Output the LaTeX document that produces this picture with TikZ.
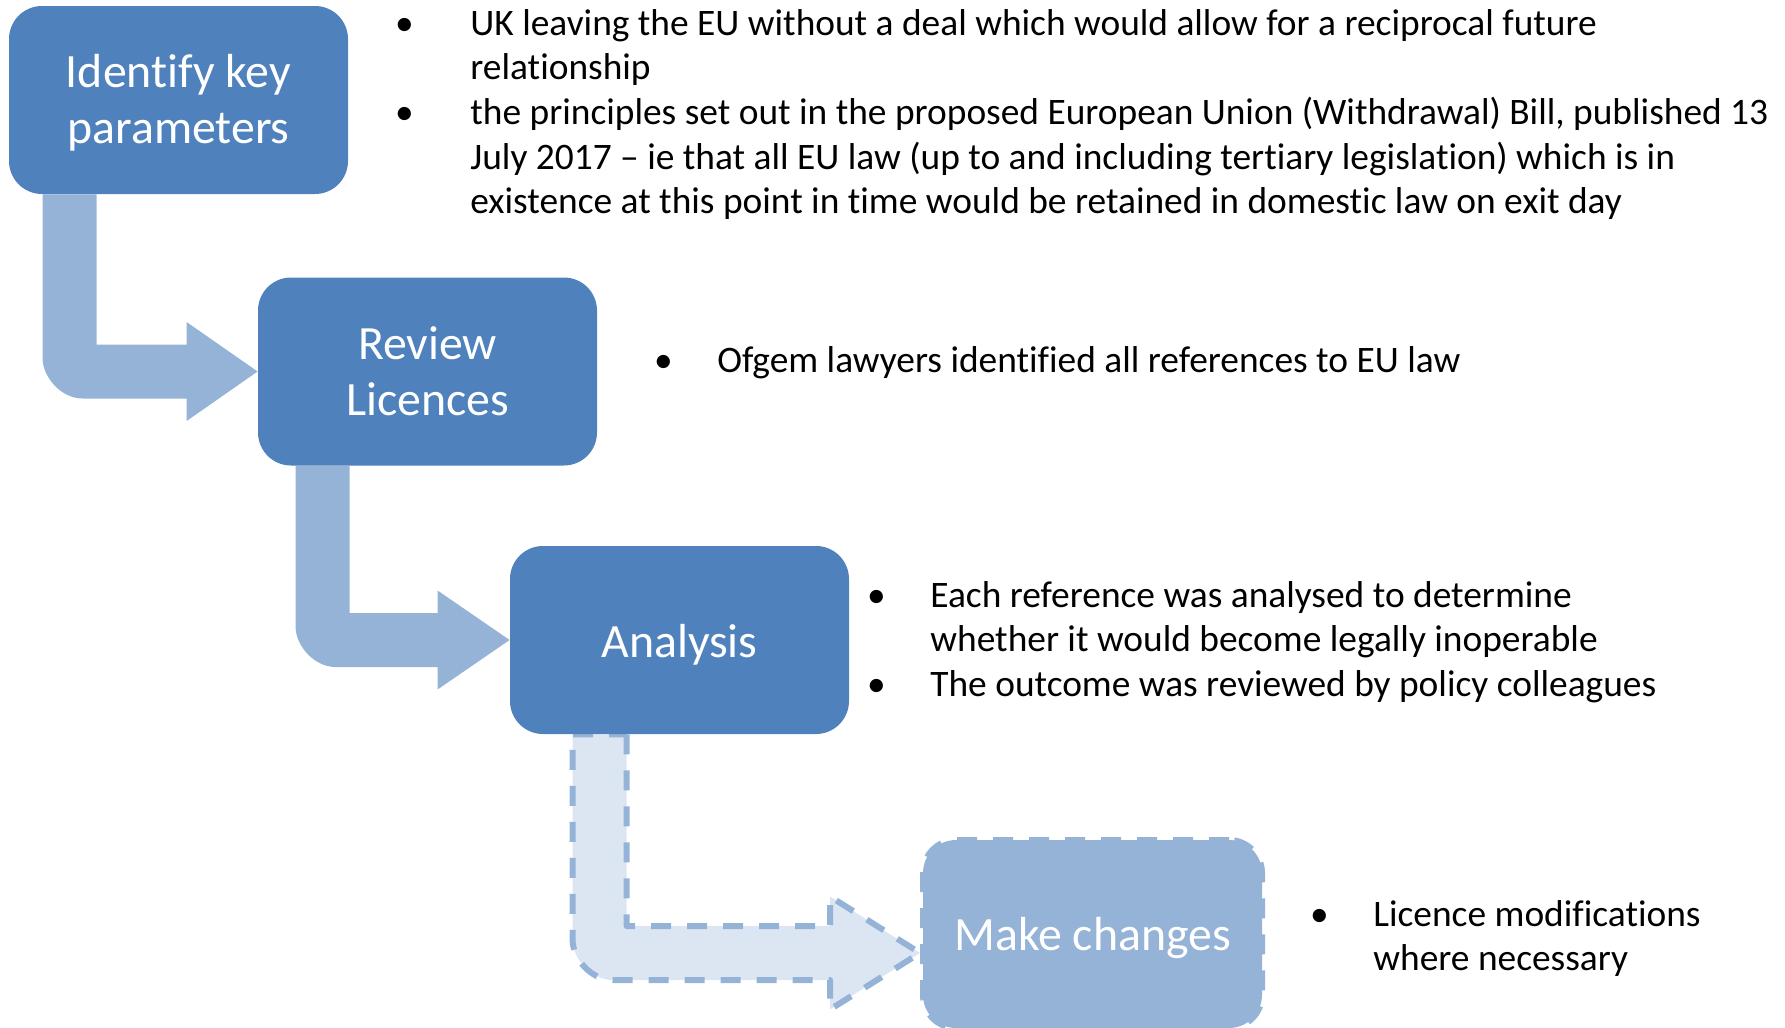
\documentclass[tikz,border=0pt]{standalone}
\usepackage{fontspec}
\setmainfont{Carlito}[Ligatures=NoCommon]
\usetikzlibrary{calc, backgrounds}

\definecolor{stepblue}{HTML}{4F81BD}
\definecolor{arrowblue}{HTML}{95B3D7}
\definecolor{paleblue}{HTML}{DCE6F2}

% hanging bullet, centred #1 to the left of the text
\newcommand{\bul}[1]{\llap{\makebox[0pt]{\textbullet}\hspace{#1}}}
% label text lowered by #1, keeping its size
\newcommand{\lowered}[2]{\raisebox{-#1}[\height][\depth]{\begin{tabular}{@{}c@{}}#2\end{tabular}}}

% bent block arrow: from node, tip, shaft offset, head length, head half height, style
\newcommand{\bentarrow}[6]{%
  \coordinate (bend) at (#1.south west |- #2);
  \path[#6] ($(#1.south west)+(#3+54,0)$) -- ($(bend)+(#3+54,-27)$)
    -- ($(#2)+(-#4,-27)$) -- ($(#2)+(-#4,-#5)$) -- (#2)
    -- ($(#2)+(-#4,#5)$) -- ($(#2)+(-#4,27)$) -- ($(bend)+(#3+40,27)$)
    .. controls ($(bend)+(#3+18,27)$) and ($(bend)+(#3,5)$) .. ($(bend)+(#3,-13)$)
    -- ($(#1.south west)+(#3,0)$) -- cycle;
}

\begin{document}
\begin{tikzpicture}[x=0.5pt, y=-0.5pt,
    stepbox/.style={rectangle, rounded corners=16.5pt, minimum width=169.5pt,
      minimum height=94pt, inner sep=0pt, fill=stepblue, text=white,
      align=center, font=\fontsize{23.9}{28.2}\selectfont},
    nextbox/.style={stepbox, fill=arrowblue, draw=arrowblue, line width=3pt,
      dash pattern=on 10pt off 8pt},
    bultxt/.style={anchor=base west, inner sep=0pt,
      font=\fontsize{18.7}{22.35}\selectfont},
    flow/.style={fill=arrowblue},
    nextflow/.style={fill=paleblue, draw=arrowblue, line width=3pt,
      dash pattern=on 10pt off 8pt, line join=round}]
    \useasboundingbox (0,0) rectangle (1785,1028);

    % steps
    \node[stepbox] (identify) at (178.5,100) {\lowered{2pt}{Identify key\\parameters}};
    \node[stepbox] (review) at (427.5,371.5) {\lowered{2.5pt}{Review\\Licences}};
    \node[stepbox] (analysis) at (679.5,640) {\lowered{3pt}{Analysis}};
    \node[nextbox] (changes) at (1092.5,934) {\lowered{2.5pt}{Make changes}};

    % notes
    \node[bultxt] (keytxt) at (470,35) {\begin{tabular}[t]{@{}l@{}}
      \bul{33pt}UK leaving the EU without a deal which would allow for a reciprocal future\\
      relationship\\
      \bul{33pt}the principles set out in the proposed European Union (Withdrawal) Bill, published 13\\
      July 2017 – ie that all EU law (up to and including tertiary legislation) which is in\\
      existence at this point in time would be retained in domestic law on exit day
    \end{tabular}};
    \node[bultxt] (reviewtxt) at (717,372) {\begin{tabular}[t]{@{}l@{}}
      \bul{27pt}Ofgem lawyers identified all references to EU law
    \end{tabular}};
    \node[bultxt] (analysistxt) at (930,607) {\begin{tabular}[t]{@{}l@{}}
      \bul{27pt}Each reference was analysed to determine\\
      whether it would become legally inoperable\\
      \bul{27pt}The outcome was reviewed by policy colleagues
    \end{tabular}};
    \node[bultxt] (changestxt) at (1373,926) {\begin{tabular}[t]{@{}l@{}}
      \bul{27pt}Licence modifications\\
      where necessary
    \end{tabular}};

    % arrows
    \coordinate (tip) at ($(changes.west)+(0,19)$);
    \begin{scope}[on background layer]
      \bentarrow{identify}{review.west}{34}{71}{49.5}{flow}
      \bentarrow{review}{analysis.west}{38}{72}{49.5}{flow}
      \bentarrow{analysis}{tip}{63}{90}{56.5}{nextflow}
    \end{scope}
\end{tikzpicture}
\end{document}
